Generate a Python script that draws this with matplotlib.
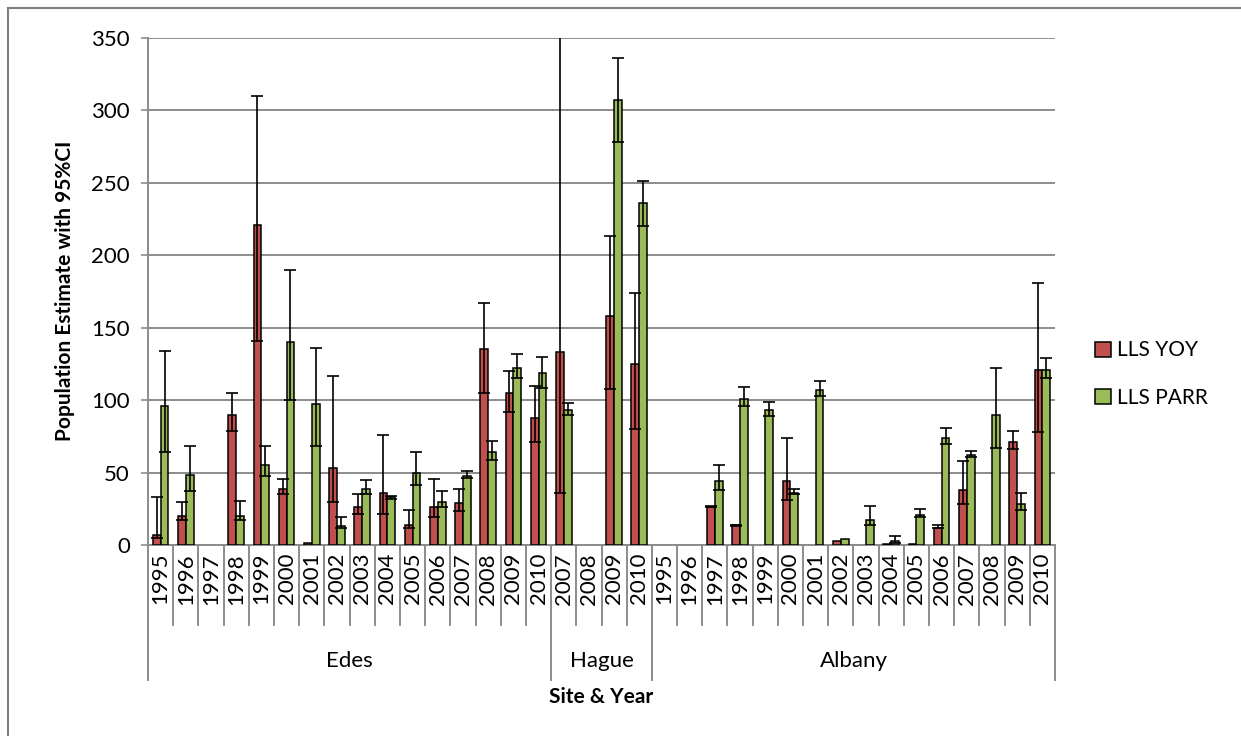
import numpy as np
import matplotlib
matplotlib.use("Agg")
import matplotlib.pyplot as plt
from matplotlib.patches import Patch
from matplotlib.lines import Line2D
import matplotlib.transforms as mtransforms

plt.rcParams['font.family'] = ['Lato', 'DejaVu Sans']

# site groups and years along the category axis
sites = ["Edes", "Hague", "Albany"]
edes_years = ["1995", "1996", "1997", "1998", "1999", "2000", "2001", "2002",
              "2003", "2004", "2005", "2006", "2007", "2008", "2009", "2010"]
hague_years = ["2007", "2008", "2009", "2010"]
albany_years = ["1995", "1996", "1997", "1998", "1999", "2000", "2001", "2002",
                "2003", "2004", "2005", "2006", "2007", "2008", "2009", "2010"]

nan = np.nan
# LLS YOY estimate with lower / upper 95% CI
yoy = [7, 20, nan, 90, 221, 39, 1.5, 53, 26, 36, 13.5, 26.5, 29, 135, 105, 88,
       133, nan, 158, 125,
       nan, nan, 26.5, 13.5, nan, 44, nan, 2.5, nan, 0.5, 0.5, 12, 38, nan, 71, 121]
yoy_lo = [5, 17.5, nan, 79, 141, 35.5, nan, 30, 21.5, 21.5, 11.5, 19.5, 23.5, 105, 92, 71,
          36, nan, 108, 80,
          nan, nan, 26, 13, nan, 31, nan, nan, nan, nan, nan, 11.5, 28.5, nan, 66, 78]
yoy_hi = [33, 30, nan, 105, 310, 45.5, nan, 117, 35, 76, 24, 45.5, 38.5, 167, 120, 110,
          420, nan, 213, 174,
          nan, nan, 27, 14, nan, 74, nan, nan, nan, nan, nan, 14, 58, nan, 79, 181]

# LLS PARR estimate with lower / upper 95% CI
parr = [96, 48, nan, 20, 55, 140, 97, 13, 39, 33, 50, 29.5, 47.5, 64, 122, 119,
        93, nan, 307, 236,
        nan, nan, 44, 101, 93, 36, 107, 4, 17, 2.5, 20.5, 74, 62, 90, 28, 121]
parr_lo = [64, 37.5, nan, 17.5, 47.5, 100, 68, 11.5, 35, 31.5, 41.5, 26, 46.5, 58.5, 115.5, 108.5,
           89.5, nan, 278, 220.5,
           nan, nan, 38, 96, 89, 35.5, 103, nan, 14, 1.5, 19.5, 70, 61, 67, 24.5, 115]
parr_hi = [134, 68, nan, 30.5, 68, 190, 136, 19, 45, 33.5, 64, 37, 51, 72, 132, 130,
           98, nan, 336, 251,
           nan, nan, 55, 109, 99, 39, 113, nan, 27, 6, 25, 81, 65, 122, 36, 129]

years = edes_years + hague_years + albany_years
group_sizes = [len(edes_years), len(hague_years), len(albany_years)]

red = "#C0504D"
green = "#9BBB59"
grid_col = "#8C8C8C"

W, H = 1241, 736
fig = plt.figure(figsize=(W / 100, H / 100), dpi=100)
ax_l, ax_r, ax_t, ax_b = 148, 1055, 38, 545
ax = fig.add_axes([ax_l / W, 1 - ax_b / H, (ax_r - ax_l) / W, (ax_b - ax_t) / H])

x = np.arange(len(years))
w = 0.31

ax.bar(x - w / 2, yoy, w, color=red, edgecolor="black", linewidth=1.1, zorder=3)
ax.bar(x + w / 2, parr, w, color=green, edgecolor="black", linewidth=1.1, zorder=3)


def draw_err(xpos, val, lo, hi):
    val, lo, hi = np.array(val), np.array(lo), np.array(hi)
    ok = ~np.isnan(lo)
    ax.errorbar(xpos[ok], val[ok], yerr=[val[ok] - lo[ok], hi[ok] - val[ok]],
                fmt="none", ecolor="black", elinewidth=1.2, capsize=4.5,
                capthick=1.2, zorder=4)


draw_err(x - w / 2, yoy, yoy_lo, yoy_hi)
draw_err(x + w / 2, parr, parr_lo, parr_hi)

ax.set_xlim(-0.5, len(years) - 0.5)
ax.set_ylim(0, 350)
ax.set_yticks(np.arange(0, 351, 50))
ax.yaxis.grid(True, color=grid_col, linewidth=1.4, zorder=0)
ax.set_axisbelow(True)
ax.tick_params(axis="y", labelsize=16, length=5, width=1.2, color=grid_col, pad=8)
ax.set_xticks([])
for s in ["top", "right"]:
    ax.spines[s].set_visible(False)
for s in ["left", "bottom"]:
    ax.spines[s].set_color(grid_col)
    ax.spines[s].set_linewidth(1.4)

# multi-level category axis
ax_h = ax_b - ax_t
trans = mtransforms.blended_transform_factory(ax.transData, ax.transAxes)
for i, yr in enumerate(years):
    ax.text(i, -8 / ax_h, yr, transform=trans, rotation=90, ha="center", va="top",
            fontsize=16)
bounds = np.concatenate([[0], np.cumsum(group_sizes)])
for i in range(len(years) + 1):
    depth = 135 if i in bounds else 80
    ax.add_line(Line2D([i - 0.5, i - 0.5], [0, -depth / ax_h], transform=trans,
                       color=grid_col, linewidth=1.4, clip_on=False))
for k, name in enumerate(sites):
    cx = (bounds[k] + bounds[k + 1] - 1) / 2
    ax.text(cx, -116 / ax_h, name, transform=trans, ha="center", va="center", fontsize=16)

fig.text(601 / W, 1 - 697 / H, "Site & Year", ha="center", va="center",
         fontsize=15, fontweight="bold")
fig.text(65 / W, 1 - 291 / H, "Population Estimate with 95%CI", rotation=90,
         ha="center", va="center", fontsize=15, fontweight="bold")

handles = [Patch(facecolor=red, edgecolor="black", linewidth=1.1, label="LLS YOY"),
           Patch(facecolor=green, edgecolor="black", linewidth=1.1, label="LLS PARR")]
fig.legend(handles=handles, loc="center left", bbox_to_anchor=(1095 / W, 1 - 374 / H),
           frameon=False, fontsize=15, handlelength=0.75, handleheight=0.75,
           handletextpad=0.3, labelspacing=1.3, borderpad=0, borderaxespad=0)

# outer chart frame and the clipped line of document text above it
fig.add_artist(Line2D([8 / W, 1], [1 - 8 / H, 1 - 8 / H], transform=fig.transFigure,
                      color="#7F7F7F", linewidth=1.5))
fig.add_artist(Line2D([8 / W, 8 / W], [0, 1 - 8 / H], transform=fig.transFigure,
                      color="#7F7F7F", linewidth=1.5))
fig.text(82 / W, 1 + 7 / H, "ing in aspect of competition resulting in lower rescuing rates.",
         ha="left", va="baseline", fontsize=22, family="Liberation Serif")

fig.savefig("out.png", dpi=100)
